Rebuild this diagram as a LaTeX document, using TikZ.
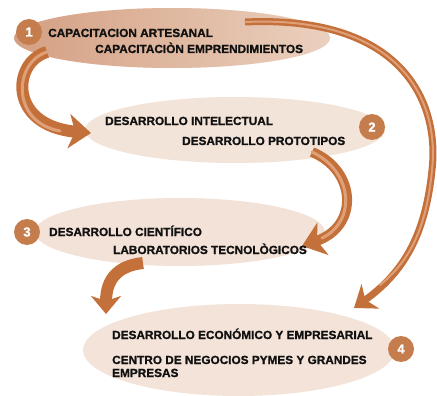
\documentclass[tikz,border=0pt]{standalone}
\usepackage{fontspec}
\setmainfont{Liberation Sans}[BoldFont={Liberation Sans Bold},BoldFeatures={FakeBold=1.2}]
\usetikzlibrary{arrows.meta,shapes.geometric}
\definecolor{arrbrown}{HTML}{C4703A}
\definecolor{arrlight}{HTML}{DFA078}
\definecolor{circbrown}{HTML}{C57D4D}
\definecolor{ellA}{HTML}{D4A083}
\definecolor{ellB}{HTML}{EBD0BE}
\definecolor{ellC}{HTML}{F3E4D9}
\definecolor{txt}{HTML}{111111}
\tikzset{
  bubble/.style={ellipse, inner sep=0pt, fill=ellC, draw=none},
  numdot/.style={circle, fill=circbrown, minimum size=26pt, inner sep=0pt,
    text=white, font=\bfseries\fontsize{13}{13}\selectfont},
  label/.style={anchor=base west, inner sep=0pt, text=txt,
    font=\bfseries\fontsize{11.8}{12}\selectfont},
  flow/.style={line width=12pt, draw=arrbrown,
    -{Stealth[length=22pt,width=34pt,inset=6pt]}},
  thinflow/.style={line width=7pt, draw=arrbrown,
    -{Stealth[length=20pt,width=30pt,inset=6pt]}},
  shine/.style={line width=3pt, draw=arrlight, line cap=round}
}
\begin{document}
\begin{tikzpicture}[x=1pt,y=-1pt]
\useasboundingbox (0,0) rectangle (437,396);
% ellipses
\node[bubble, minimum width=316pt, minimum height=60pt, left color=ellA, right color=ellB] (e1) at (172,38) {};
\node[bubble, minimum width=300pt, minimum height=66pt] (e2) at (235,130) {};
\node[bubble, minimum width=290pt, minimum height=68pt, fill=ellC!92!ellB] (e3) at (180,232) {};
\node[bubble, minimum width=312pt, minimum height=92pt, fill=ellC!96!ellB] (e4) at (239,350) {};
% connector endpoints
\coordinate (a1) at (47,52);
\coordinate (a2) at (91,133);
\coordinate (b1) at (312,152);
\coordinate (b2) at (302,246);
\coordinate (c1) at (143,263);
\coordinate (c2) at (106,314);
\coordinate (d1) at (245,22);
\coordinate (dm) at (432,170);
\coordinate (d2) at (354,308);
% arrows
\draw[flow] (a1) .. controls (12,62) and (8,126) .. (a2);
\draw[shine] (a1) .. controls (14,62) and (10,122) .. (60,131);
\draw[flow, line width=10pt] (b1) .. controls (356,170) and (360,226) .. (b2);
\draw[shine] (b1) .. controls (354,172) and (356,222) .. (322,238);
\draw[flow, line width=12pt, -{Stealth[length=18pt,width=30pt,inset=5pt]}] (c1) .. controls (115,266) and (106,282) .. (c2);
\draw[thinflow] (d1) .. controls (400,15) and (440,100) .. (dm) .. controls (425,240) and (400,275) .. (d2);
\draw[shine, line width=2pt] (d1) .. controls (400,15) and (440,100) .. (dm) .. controls (426,232) and (408,262) .. (380,285);
% numbers
\node[numdot] (n1) at (29,32) {1};
\node[numdot] (n2) at (372,127) {2};
\node[numdot] (n3) at (27,232) {3};
\node[numdot] (n4) at (401,349) {4};
% texts
\node[label] (t1a) at (48,37) {CAPACITACION ARTESANAL};
\node[label] (t1b) at (95,53) {CAPACITACIÒN EMPRENDIMIENTOS};
\node[label] (t2a) at (105,125) {DESARROLLO INTELECTUAL};
\node[label] (t2b) at (182,145) {DESARROLLO PROTOTIPOS};
\node[label] (t3a) at (49,236) {DESARROLLO CIENTÍFICO};
\node[label] (t3b) at (113,254) {LABORATORIOS TECNOLÒGICOS};
\node[label] (t4a) at (112,339) {DESARROLLO ECONÓMICO Y EMPRESARIAL};
\node[label] (t4b) at (112,364) {CENTRO DE NEGOCIOS PYMES Y GRANDES};
\node[label] (t4c) at (112,377) {EMPRESAS};
\end{tikzpicture}
\end{document}
